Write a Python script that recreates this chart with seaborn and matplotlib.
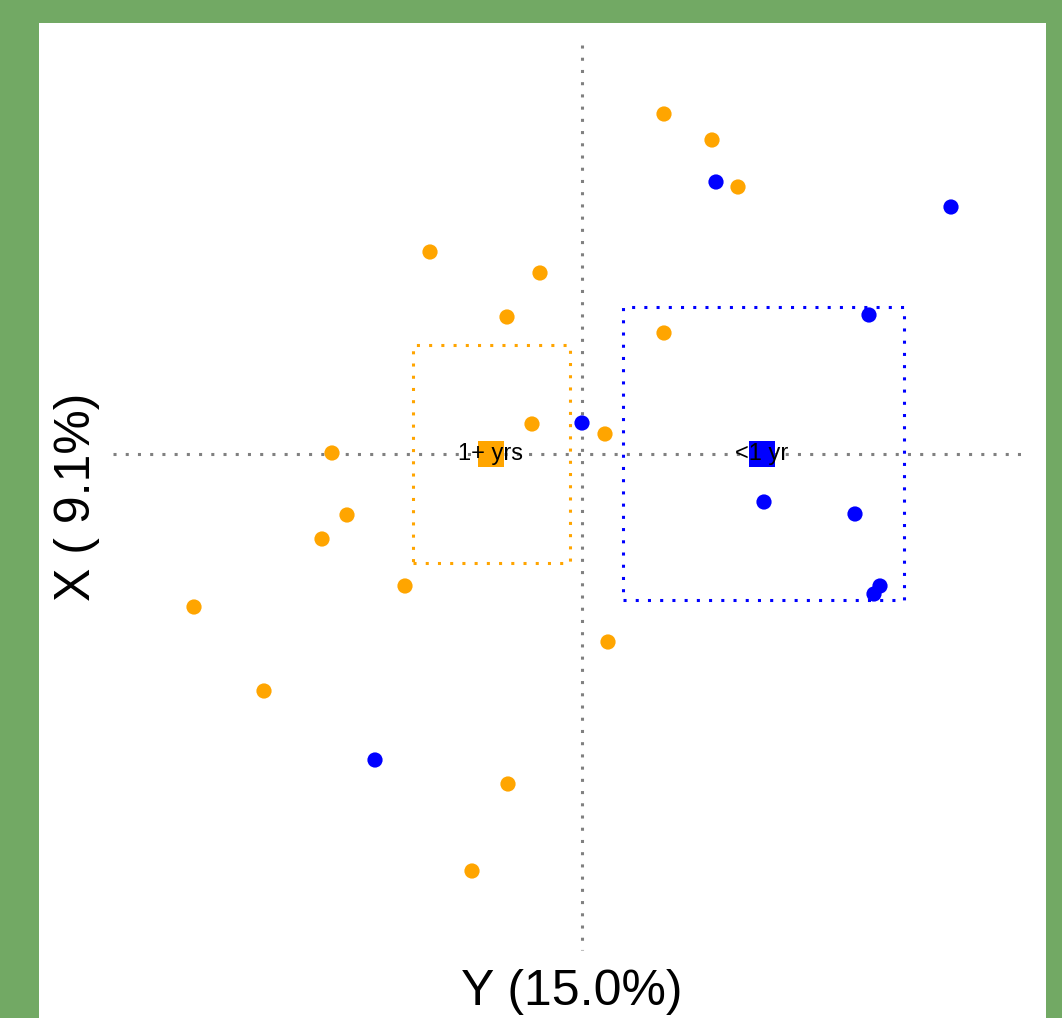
import numpy as np
import pandas as pd
import matplotlib
matplotlib.use("Agg")
import matplotlib.pyplot as plt
import seaborn as sns
from matplotlib.patches import Rectangle

# point scores
orange_x = [0.82, 1.30, 1.56, -1.52, -0.42, -0.75, 0.82, -0.50, 0.23, -2.50, -2.35, -2.60, -1.77, -3.88, 0.26, -3.18, -0.74, -1.10]
orange_y = [3.40, 3.14, 2.67, 2.02, 1.81, 1.37, 1.21, 0.30, 0.20, 0.01, -0.61, -0.85, -1.32, -1.53, -1.88, -2.37, -3.30, -4.17]
blue_x = [1.34, 3.69, 2.87, 0.00, 1.82, 2.73, 2.98, 2.92, -2.07]
blue_y = [2.72, 2.47, 1.39, 0.31, -0.48, -0.60, -1.32, -1.40, -3.06]

groups = ["1+ yrs", "<1 yr"]
group_colors = ["orange", "blue"]
centroid_x = [-0.91, 1.80]
centroid_y = [0.0, 0.0]
# box extents: x0, x1, y0, y1
box_x0 = [-1.69, 0.41]
box_x1 = [-0.12, 3.22]
box_y0 = [-1.09, -1.46]
box_y1 = [1.09, 1.47]

x_label = "Y (15.0%)"
y_label = "X ( 9.1%)"

df = pd.DataFrame({
    "x": orange_x + blue_x,
    "y": orange_y + blue_y,
    "group": [groups[0]] * len(orange_x) + [groups[1]] * len(blue_x),
})

sns.set_style("white")
plt.rcParams["font.family"] = ["Liberation Sans", "DejaVu Sans"]
plt.rcParams["text.color"] = "black"

fig = plt.figure(figsize=(10.62, 10.18), dpi=100)
fig.patch.set_facecolor("#72a964")
ax = fig.add_axes([39 / 1062, 0.0, (1046 - 39) / 1062, (1018 - 23) / 1018])
ax.set_facecolor("white")

# reference lines
ax.plot([-4.69, 4.43], [0, 0], color="gray", lw=2.2, ls=(0, (1, 3)), zorder=1)
ax.plot([0, 0], [4.09, -4.96], color="gray", lw=2.2, ls=(0, (1, 3)), zorder=1)

sns.scatterplot(data=df, x="x", y="y", hue="group", palette=dict(zip(groups, group_colors)),
                s=120, linewidth=0, legend=False, ax=ax, zorder=3)

for i, g in enumerate(groups):
    ax.add_patch(Rectangle((box_x0[i], box_y0[i]), box_x1[i] - box_x0[i], box_y1[i] - box_y0[i],
                           fill=False, edgecolor=group_colors[i], lw=2.2, ls=(0, (1, 3)), zorder=2))
    ax.scatter(centroid_x[i], centroid_y[i], marker="s", s=340, color=group_colors[i], linewidth=0, zorder=4)
    ax.text(centroid_x[i], centroid_y[i], g, ha="center", va="center", fontsize=17, color="black", zorder=5)

ax.text(-0.10, -5.38, x_label, ha="center", va="center", fontsize=36, color="black")
ax.text(-5.05, -0.43, y_label, ha="center", va="center", fontsize=36, rotation=90, color="black")

ax.set_xlim(-5.43, 4.64)
ax.set_ylim(-5.64, 4.31)
ax.set_xticks([])
ax.set_yticks([])
ax.set_xlabel("")
ax.set_ylabel("")
for sp in ax.spines.values():
    sp.set_visible(False)

fig.savefig("out.png", dpi=100, facecolor=fig.get_facecolor())
